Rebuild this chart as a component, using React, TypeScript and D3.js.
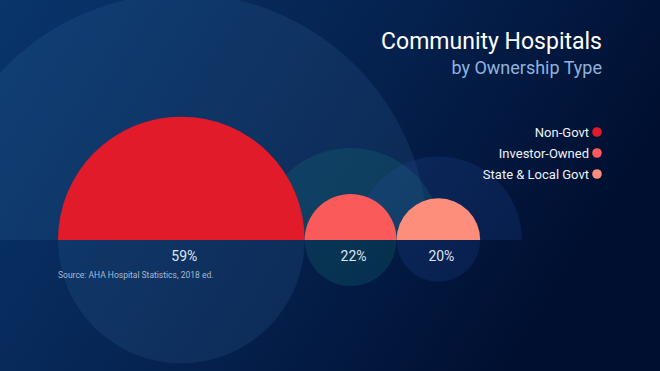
import * as d3 from "d3";

// share of community hospitals by ownership type
const categories = ["Non-Govt", "Investor-Owned", "State & Local Govt"];
const shares = [59, 22, 20];
const colors = ["#e11b2a", "#fb5a5a", "#fd8e7b"];
const ghostColors = ["rgba(70,130,180,0.15)", "rgba(20,120,120,0.24)", "rgba(40,80,170,0.20)"];
const labels = ["59%", "22%", "20%"];

const width = 660;
const height = 371;
const baseY = 240;
const startX = 58;
const font = "Roboto, 'DejaVu Sans', sans-serif";

export default function App() {
  const r = d3.scaleLinear().domain([0, 100]).range([0, 209]);

  // circles sit side by side along the baseline
  const offsets = d3.cumsum(shares, (d) => 2 * r(d));
  const bubbles = shares.map((v, i) => {
    const rad = r(v);
    const cx = startX + (i === 0 ? 0 : offsets[i - 1]) + rad;
    return { v, rad, cx, color: colors[i], ghost: ghostColors[i], label: labels[i] };
  });

  const half = (rad: number) =>
    d3.arc()({ innerRadius: 0, outerRadius: rad, startAngle: -Math.PI / 2, endAngle: Math.PI / 2 }) as string;

  return (
    <svg width={width} height={height} style={{ position: "fixed", left: 0, top: 0 }}>
      <defs>
        <linearGradient id="bg" x1="0" y1="0" x2="1" y2="0.35">
          <stop offset="0" stopColor="#09356b" />
          <stop offset="0.55" stopColor="#05224f" />
          <stop offset="1" stopColor="#000f30" />
        </linearGradient>
        <clipPath id="above">
          <rect x={0} y={0} width={width} height={baseY} />
        </clipPath>
        <clipPath id="below">
          <rect x={0} y={baseY} width={width} height={height - baseY} />
        </clipPath>
      </defs>
      <rect width={width} height={height} fill="url(#bg)" />

      <g clipPath="url(#above)">
        {bubbles.map((b, i) => (
          <circle key={i} cx={b.cx} cy={baseY} r={b.rad * 2} fill={b.ghost} />
        ))}
      </g>
      <g clipPath="url(#below)">
        {bubbles.map((b, i) => (
          <circle key={i} cx={b.cx} cy={baseY} r={b.rad} fill={b.ghost} />
        ))}
      </g>
      {bubbles.map((b, i) => (
        <path key={i} transform={`translate(${b.cx},${baseY})`} d={half(b.rad)} fill={b.color} />
      ))}
      {bubbles.map((b, i) => (
        <text key={i} x={b.cx + 3} y={261} textAnchor="middle" fontFamily={font} fontSize={14} fill="#dde7f4">
          {b.label}
        </text>
      ))}

      <text x={startX} y={278} fontFamily={font} fontSize={8.5} fill="#a8bad4">
        Source: AHA Hospital Statistics, 2018 ed.
      </text>

      <text x={602} y={49} textAnchor="end" fontFamily={font} fontSize={23} fill="#ffffff">
        Community Hospitals
      </text>
      <text x={602} y={74} textAnchor="end" fontFamily={font} fontSize={18} fill="#8fb3de">
        by Ownership Type
      </text>

      {categories.map((c, i) => (
        <g key={c} transform={`translate(0,${132 + i * 21})`}>
          <text x={589} y={5} textAnchor="end" fontFamily={font} fontSize={13} fill="#eef2f8">
            {c}
          </text>
          <circle cx={597} cy={0} r={4.8} fill={colors[i]} />
        </g>
      ))}
    </svg>
  );
}
